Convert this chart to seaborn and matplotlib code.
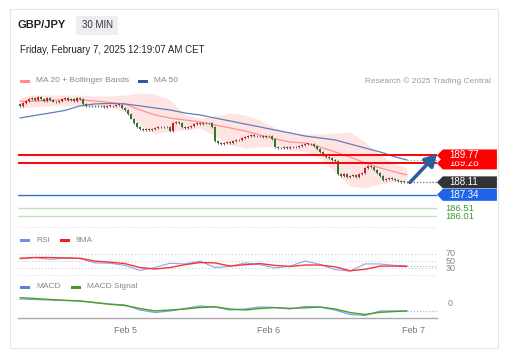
import pandas as pd
import seaborn as sns
import matplotlib
matplotlib.use("Agg")
from matplotlib import pyplot as plt
import matplotlib.dates as mdates
import matplotlib.transforms as mtrans
from matplotlib.patches import Rectangle, Polygon
from matplotlib.lines import Line2D

# 30-minute closes, GBP/JPY, Feb 4 -> Feb 7 2025
closes = [192.85, 193.0, 193.15, 193.25,
          193.3, 193.2, 193.35, 193.25, 193.15, 193.3, 193.2, 193.1, 193.05,
          193.15, 193.25, 193.3, 193.2, 193.25, 193.15, 193.3, 193.25,
          192.95,
          192.85, 192.8, 192.85, 192.8, 192.85, 192.8, 192.78, 192.82, 192.85,
          192.8, 192.88, 192.9,
          192.7,
          192.55, 192.3, 192.05, 191.8, 191.55,
          191.4, 191.35, 191.4, 191.35, 191.42, 191.45, 191.5,
          191.5, 191.55, 191.5, 191.3,
          191.75, 191.85, 191.8,
          191.55, 191.45, 191.5,
          191.6, 191.7, 191.75, 191.7, 191.8, 191.75, 191.8,
          191.55,
          190.65,
          190.55, 190.5, 190.55, 190.6, 190.55, 190.65,
          190.7, 190.75, 190.85, 190.9, 191.0, 191.05,
          190.95, 191.0, 190.95, 190.9, 191.0, 190.95,
          190.8,
          190.3,
          190.25, 190.2, 190.3, 190.25, 190.3, 190.28, 190.32, 190.38, 190.42, 190.48,
          190.5, 190.45, 190.35,
          190.15, 190.0, 189.8, 189.65, 189.6,
          189.5, 189.4,
          188.6,
          188.5, 188.6, 188.45, 188.5, 188.55, 188.45, 188.6, 188.7,
          189.0, 189.1, 189.05,
          188.9, 188.7, 188.5,
          188.25, 188.3, 188.35, 188.3,
          188.25, 188.2, 188.15, 188.13, 188.11]

# indicator readings, every 5th candle
ind_idx = list(range(0, 130, 5)) + [129]
ma20 = [193.11, 193.13, 193.17, 193.20, 193.20, 193.13, 193.04, 192.95, 192.58,
        192.27, 192.08, 191.96, 191.84, 191.65, 191.47, 191.28, 191.04, 190.79,
        190.60, 190.54, 190.29, 189.99, 189.68, 189.31, 189.00, 188.75, 188.57]
upper_band = [193.38, 193.50, 193.50, 193.50, 193.50, 193.44, 193.44, 193.50,
              193.63, 193.57, 193.20, 192.27, 192.08, 192.21, 192.39, 192.27,
              191.96, 191.47, 191.16, 191.10, 191.10, 191.16, 191.22, 190.60,
              189.80, 189.25, 189.00]
lower_band = [192.70, 192.76, 192.83, 192.83, 192.83, 192.76, 192.76, 192.46,
              191.65, 191.10, 191.28, 191.34, 191.47, 190.97, 190.42, 190.23,
              190.29, 190.36, 190.11, 189.99, 189.62, 188.75, 187.89, 187.76,
              188.01, 188.13, 188.13]
ma50 = [192.08, 192.24, 192.39, 192.55, 192.83, 192.95, 192.98, 192.95, 192.83,
        192.70, 192.58, 192.39, 192.27, 192.08, 191.90, 191.71, 191.53, 191.34,
        191.16, 190.97, 190.85, 190.73, 190.48, 190.23, 189.99, 189.68, 189.49]
rsi = [56, 60, 55, 58, 57, 45, 44, 38, 24, 32, 44, 42, 50, 32, 35, 45, 40, 31,
       36, 50, 41, 26, 22, 42, 42, 38, 37]
rsi_ma = [58, 60, 60, 59, 58, 50, 47, 43, 32, 28, 32, 40, 46, 45, 36, 40, 43,
          38, 35, 39, 39, 34, 23, 27, 36, 36, 35]
macd = [0.12, 0.105, 0.09, 0.075, 0.06, 0.015, -0.03, -0.06, -0.21, -0.285,
        -0.24, -0.165, -0.09, -0.12, -0.21, -0.18, -0.12, -0.135, -0.18, -0.105,
        -0.12, -0.21, -0.345, -0.375, -0.24, -0.24, -0.24]
macd_signal = [0.16, 0.135, 0.105, 0.08, 0.06, 0.01, -0.04, -0.075, -0.165,
               -0.24, -0.21, -0.18, -0.135, -0.115, -0.18, -0.21, -0.165, -0.14,
               -0.16, -0.145, -0.12, -0.18, -0.285, -0.345, -0.28, -0.255, -0.24]

# support / resistance levels
res_levels = [189.28, 189.77]
pivot = 187.34
sup_levels = [186.51, 186.01]
x_labels = ["Feb 5", "Feb 6", "Feb 7"]

W, H = 508, 357


def fx(x):
    return x / W


def fy(y):
    return 1 - y / H


sns.set_style("white")
plt.rcParams['font.family'] = ['Liberation Sans', 'DejaVu Sans']

times = pd.date_range("2025-02-04 06:30", periods=len(closes), freq="30min")
t = mdates.date2num(times)
step = t[1] - t[0]
opens = [closes[0] + 0.1] + closes[:-1]
ind_t = t[ind_idx]
xlim = (t[0] - 0.67 * step, t[0] + 139 * step)

fig = plt.figure(figsize=(W / 100, H / 100), dpi=100)
fig.patches.append(Rectangle((fx(10), fy(348)), fx(488), 339 / H,
                             transform=fig.transFigure, fill=False,
                             edgecolor="#e2e5ea", lw=0.8))

# header
fig.text(fx(18), fy(25), "GBP/JPY", fontsize=8, fontweight="bold",
         color="#222222", va="center")
fig.patches.append(Rectangle((fx(76), fy(35)), fx(42), 19 / H,
                             transform=fig.transFigure, facecolor="#eceef2",
                             edgecolor="none"))
fig.text(fx(97), fy(25.5), "30 MIN", fontsize=7, color="#333333",
         va="center", ha="center")
fig.text(fx(20), fy(50), "Friday, February 7, 2025 12:19:07 AM CET",
         fontsize=7, color="#222222", va="center")


def legend_item(x, y, color, label):
    fig.patches.append(Rectangle((fx(x), fy(y + 2)), fx(10), 3.5 / H,
                                 transform=fig.transFigure, facecolor=color,
                                 edgecolor="none"))
    fig.text(fx(x + 16), fy(y), label, fontsize=6, color="#888888",
             va="center")


legend_item(20, 81, "#ff8c8c", "MA 20 + Bollinger Bands")
legend_item(138, 81, "#2f5c9e", "MA 50")
fig.text(fx(491), fy(81.5), "Research \u00a9 2025 Trading Central",
         fontsize=6, color="#999999", va="center", ha="right")
legend_item(20, 240, "#6f8fe8", "RSI")
legend_item(60, 240, "#ff1a1a", "9MA")
legend_item(20, 287, "#5a7fe0", "MACD")
legend_item(71, 287, "#3f9e1a", "MACD Signal")

for yy in (227, 275):
    fig.add_artist(Line2D([fx(18), fx(437)], [fy(yy), fy(yy)], ls=(0, (1, 2)),
                          color="#dddddd", lw=0.8, transform=fig.transFigure))

# ---------- price panel ----------
ax = fig.add_axes([fx(18), fy(224), fx(419), 134 / H])
ax.set_xlim(*xlim)
ax.set_ylim(185.54, 193.81)
ax.axis("off")

ax.fill_between(ind_t, lower_band, upper_band, color="#ffdede", alpha=0.8,
                lw=0, zorder=1)
sns.lineplot(x=ind_t, y=ma20, ax=ax, color="#ff9090", lw=0.9, zorder=2)
sns.lineplot(x=ind_t, y=ma50, ax=ax, color="#5f7fba", lw=0.9, zorder=2)
ax.plot([ind_t[-1], xlim[1]], [ma50[-1]] * 2, ls=(0, (1, 1.5)),
        color="#9aa8c4", lw=0.9, zorder=2)

wick = 0.06
for ti, o, c in zip(t, opens, closes):
    col = "#e3141c" if c >= o else "#2a7a2a"
    lo, hi = min(o, c), max(o, c)
    ax.vlines(ti, lo - wick, hi + wick, color="#555555", lw=0.6, zorder=3)
    ax.bar(ti, max(hi - lo, 0.04), bottom=lo, width=step * 0.65,
           color=col, lw=0, zorder=4)

for lv in res_levels:
    ax.axhline(lv, color="#ff0000", lw=1.4, zorder=5)
ax.axhline(pivot, color="#2f6fe6", lw=1.0, zorder=5)
for lv in sup_levels:
    ax.axhline(lv, color="#bfe3b8", lw=1.0, zorder=5)
ax.plot([t[-1], xlim[1]], [closes[-1]] * 2, ls=(0, (1, 1.5)),
        color="#666666", lw=0.9, zorder=5)

blend = mtrans.blended_transform_factory(ax.transAxes, ax.transData)
hh = 0.37


def tag(y, text, face, z):
    pts = [(1.0, y), (1.014, y + hh), (1.143, y + hh), (1.143, y - hh),
           (1.014, y - hh)]
    ax.add_patch(Polygon(pts, closed=True, transform=blend, clip_on=False,
                         facecolor=face, edgecolor="none", zorder=z))
    ax.text(1.03, y, text, transform=blend, fontsize=7, color="white",
            va="center", ha="left", zorder=z + 0.5, clip_on=False)


tag(res_levels[0], f"{res_levels[0]:.2f}", "#ff0000", 6)
tag(res_levels[1], f"{res_levels[1]:.2f}", "#ff0000", 7)
tag(closes[-1], f"{closes[-1]:.2f}", "#333333", 6)
tag(pivot, f"{pivot:.2f}", "#1e63e9", 6)
for lv in sup_levels:
    ax.text(1.02, lv, f"{lv:.2f}", transform=blend, fontsize=6.8,
            color="#3a9a3a", va="center", ha="left", clip_on=False)

ax.annotate("", xy=(1.0, res_levels[1] + 0.1), xycoords=blend,
            xytext=(t[-1] + step, closes[-1]), textcoords="data",
            arrowprops=dict(arrowstyle="-|>,head_width=0.4,head_length=0.7",
                            color="#2c5f9e", lw=2.6, shrinkA=0, shrinkB=0),
            zorder=9, annotation_clip=False)

# ---------- RSI panel ----------
axr = fig.add_axes([fx(18), fy(275.4), fx(419), 26.8 / H])
axr.set_xlim(*xlim)
axr.set_ylim(10, 85)
axr.axis("off")
for lv in (70, 50, 30):
    axr.axhline(lv, color="#cccccc", lw=0.8, ls=(0, (1, 2)))
    axr.text(1.02, lv, str(lv), transform=mtrans.blended_transform_factory(
        axr.transAxes, axr.transData), fontsize=6.5, color="#888888",
        va="center", clip_on=False)
sns.lineplot(x=ind_t, y=rsi, ax=axr, color="#8aa4f0", lw=0.8)
sns.lineplot(x=ind_t, y=rsi_ma, ax=axr, color="#ff3030", lw=1.0)
axr.plot([ind_t[-1], xlim[1]], [rsi[-1]] * 2, ls=(0, (1, 1.5)),
         color="#a8b8f0", lw=0.9)

# ---------- MACD panel ----------
axm = fig.add_axes([fx(18), fy(318), fx(419), 25 / H])
axm.set_xlim(*xlim)
axm.set_ylim(-0.45, 0.3)
sns.lineplot(x=ind_t, y=macd, ax=axm, color="#7f9cf0", lw=0.9)
sns.lineplot(x=ind_t, y=macd_signal, ax=axm, color="#4aa01e", lw=1.0)
axm.plot([ind_t[-1], xlim[1]], [macd[-1]] * 2, ls=(0, (1, 1.5)),
         color="#a8b8f0", lw=0.9)
axm.text(1.025, 0, "0", transform=mtrans.blended_transform_factory(
    axm.transAxes, axm.transData), fontsize=6.5, color="#888888",
    va="center", clip_on=False)
for s in ("top", "right", "left"):
    axm.spines[s].set_visible(False)
axm.spines["bottom"].set_color("#aaaaaa")
axm.spines["bottom"].set_linewidth(1.0)
axm.set_yticks([])
label_t = mdates.date2num(pd.to_datetime(["2025-02-05", "2025-02-06",
                                          "2025-02-07"]))
axm.set_xticks(label_t)
axm.set_xticklabels(x_labels)
axm.tick_params(axis="x", length=0, labelsize=6.5, labelcolor="#777777",
                pad=6)
axm.set_xticks(list(xlim), minor=True)
axm.tick_params(axis="x", which="minor", length=4, color="#aaaaaa", width=1)
axm.set_xlabel("")
axm.set_ylabel("")

fig.savefig("out.png", dpi=100)
